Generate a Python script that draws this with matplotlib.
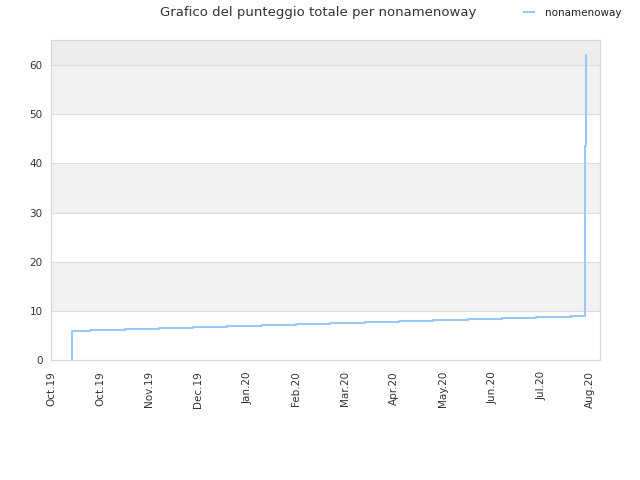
import matplotlib
matplotlib.use("Agg")
import matplotlib.pyplot as plt
import matplotlib.dates as mdates
import pandas as pd

title = "Grafico del punteggio totale per nonamenoway"
series_name = "nonamenoway"

dates = [
    "2019-10-14 00:00", "2019-10-14 00:01", "2019-10-25 00:00", "2019-11-15 00:00", "2019-12-06 00:00",
    "2019-12-27 00:00", "2020-01-17 00:00", "2020-02-07 00:00", "2020-02-28 00:00", "2020-03-20 00:00",
    "2020-04-10 00:00", "2020-05-01 00:00", "2020-05-22 00:00", "2020-06-12 00:00", "2020-07-03 00:00",
    "2020-07-24 00:00", "2020-08-14 00:00", "2020-08-23 00:00", "2020-08-23 00:10",
    "2020-08-23 00:20", "2020-08-23 00:30", "2020-08-23 00:40", "2020-08-23 12:00",
    "2020-08-23 12:10",
]
scores = [
    0.0, 6.0, 6.2, 6.4, 6.6,
    6.8, 7.0, 7.2, 7.4, 7.6,
    7.8, 8.0, 8.2, 8.4, 8.6,
    8.8, 9.0, 12.0, 19.0,
    28.0, 38.0, 43.5, 49.0,
    62.0,
]
y_ticks = [0, 10, 20, 30, 40, 50, 60]
x_start = "2019-10-01"
x_end = "2020-09-01"
tick_step_days = 30

x = pd.to_datetime(dates, format="mixed")

fig = plt.figure(figsize=(6.4, 4.8), dpi=100)
ax = fig.add_axes([51/640, 120/480, 549/640, 320/480])

ymax = 65.1
# alternating bands
ax.axhspan(0, 10, color="white", zorder=0)
for lo in (10, 30, 50):
    ax.axhspan(lo, lo + 10, color="#f2f2f2", zorder=0, lw=0)
ax.axhspan(60, ymax, color="#ececec", zorder=0, lw=0)
for t in y_ticks[1:]:
    ax.axhline(t, color="#dcdcdc", lw=0.8, zorder=1)

ax.step(x, scores, where="post", color="#99c8f4", lw=1.5, zorder=3, label=series_name)

ax.set_xlim(pd.Timestamp(x_start), pd.Timestamp(x_end))
ax.set_ylim(0, ymax)
ax.set_yticks(y_ticks)
xt = pd.date_range(x_start, "2020-08-30", freq=f"{tick_step_days}D")
ax.set_xticks(xt)
ax.xaxis.set_major_formatter(mdates.DateFormatter("%b.%y"))
for lbl in ax.get_xticklabels():
    lbl.set_rotation(90)

ax.tick_params(axis="x", length=0, labelsize=7.5, labelcolor="#333333", pad=8)
ax.tick_params(axis="y", length=0, labelsize=7.5, labelcolor="#333333", pad=6)
for s in ax.spines.values():
    s.set_color("#d8d8d8")
    s.set_linewidth(0.9)

fig.text(0.497, 0.973, title, ha="center", va="center", fontsize=9.5, color="#333333")
fig.legend(loc="center left", bbox_to_anchor=(0.804, 0.973), frameon=False,
           fontsize=7.5, handlelength=1.0, handletextpad=1.0, labelcolor="#222222")

fig.savefig("out.png", dpi=100)
